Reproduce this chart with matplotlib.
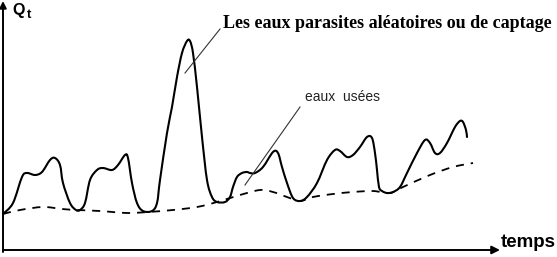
import numpy as np
import matplotlib
matplotlib.use("Agg")
import matplotlib.pyplot as plt
from matplotlib.path import Path
from matplotlib.patches import PathPatch

# hydrogram: t = time from origin, q = flow above axis
t_total = [0, 10, 19, 24, 32, 39, 47, 52, 57, 60, 67, 73, 77, 82, 87, 94, 100,
           109, 115, 122, 125, 129, 134, 140, 149, 154, 157, 164, 169, 174, 179,
           184, 187, 190, 194, 199, 204, 209, 214, 222, 227, 230, 234, 239, 244,
           247, 252, 260, 270, 275, 279, 284, 290, 297, 304, 314, 324, 332, 337,
           344, 350, 357, 364, 369, 372, 374, 376, 379, 384, 390, 397, 404, 414,
           422, 427, 432, 437, 444, 452, 457, 460, 463, 464]
q_total = [36, 47, 73, 77, 75, 78, 90, 92, 85, 67, 47, 40, 40, 47, 70, 80, 82,
           80, 85, 95, 92, 67, 47, 39, 39, 47, 70, 117, 143, 173, 197,
           209, 209, 197, 163, 113, 70, 53, 48, 48, 53, 63, 73, 77, 78,
           77, 77, 83, 98, 97, 83, 67, 52, 49, 53, 67, 90, 100, 99,
           93, 95, 103, 113, 112, 97, 80, 63, 59, 57, 58, 63, 77, 97,
           110, 107, 97, 97, 107, 123, 129, 128, 120, 113]

# eaux usées (base flow, dashed)
t_base = [0, 17, 40, 59, 74, 97, 124, 145, 170, 194, 214, 237, 257, 270, 284,
          297, 310, 330, 350, 370, 387, 400, 427, 450, 470]
q_base = [36, 40, 43, 41, 40, 39, 37, 38, 40, 43, 48, 55, 60, 58, 53,
          49, 53, 56, 58, 59, 57, 63, 75, 83, 87]

label_total = "Les eaux parasites aléatoires ou de captage"
label_base = "eaux  usées"
label_x = "temps"

# annotation anchors (text start, leader line start -> end)
pos_total = (220, 222)
lead_total = [(217, 221), (182, 177)]
pos_base = (302, 149)
lead_base = [(297, 143), (242, 65)]


def smooth_path(xs, ys):
    # catmull-rom through the points, drawn as cubic beziers
    p = np.column_stack([xs, ys]).astype(float)
    ext = np.vstack([p[0], p, p[-1]])
    verts = [p[0]]
    codes = [Path.MOVETO]
    for i in range(1, len(ext) - 2):
        p0, p1, p2, p3 = ext[i - 1], ext[i], ext[i + 1], ext[i + 2]
        verts += [p1 + (p2 - p0) / 6.0, p2 - (p3 - p1) / 6.0, p2]
        codes += [Path.CURVE4] * 3
    return Path(verts, codes)


plt.rcParams['lines.scale_dashes'] = False

fig = plt.figure(figsize=(5.57, 2.57), dpi=100)
ax = fig.add_axes([0, 0, 1, 1])
ax.set_xlim(-3, 554)
ax.set_ylim(-7, 250)
ax.axis('off')

ax.add_patch(PathPatch(smooth_path(t_total, q_total), facecolor='none',
                       edgecolor='black', lw=1.5, joinstyle='round',
                       capstyle='round'))
ax.add_patch(PathPatch(smooth_path(t_base, q_base), facecolor='none',
                       edgecolor='black', lw=1.3, linestyle=(0, (5.8, 5.0))))

# axes with arrows
ax.annotate('', xy=(497, 0), xytext=(0, 0),
            arrowprops=dict(arrowstyle='-|>', lw=1.4, color='black',
                            mutation_scale=12, shrinkA=0, shrinkB=0))
ax.annotate('', xy=(0, 249), xytext=(0, -2),
            arrowprops=dict(arrowstyle='-|>', lw=1.4, color='black',
                            mutation_scale=10, shrinkA=0, shrinkB=0))

# leader lines
ax.plot([p[0] for p in lead_total], [p[1] for p in lead_total], color='#333333', lw=0.8)
ax.plot([p[0] for p in lead_base], [p[1] for p in lead_base], color='#333333', lw=0.8)

ax.text(pos_total[0], pos_total[1], label_total, family='Liberation Serif',
        weight='bold', fontsize=13, va='baseline', ha='left')
ax.text(pos_base[0], pos_base[1], label_base, family='Liberation Sans',
        fontsize=10, va='baseline', ha='left', color='#222222')
ax.text(498, 3, label_x, family='Liberation Sans', weight='bold',
        fontsize=13.5, va='baseline', ha='left')
ax.text(9, 235, 'Q', family='Liberation Sans', weight='bold',
        fontsize=11.5, va='baseline', ha='left')
ax.text(24, 232, 't', family='Liberation Sans', weight='bold',
        fontsize=9.5, va='baseline', ha='left')

fig.savefig('out.png', dpi=100)
